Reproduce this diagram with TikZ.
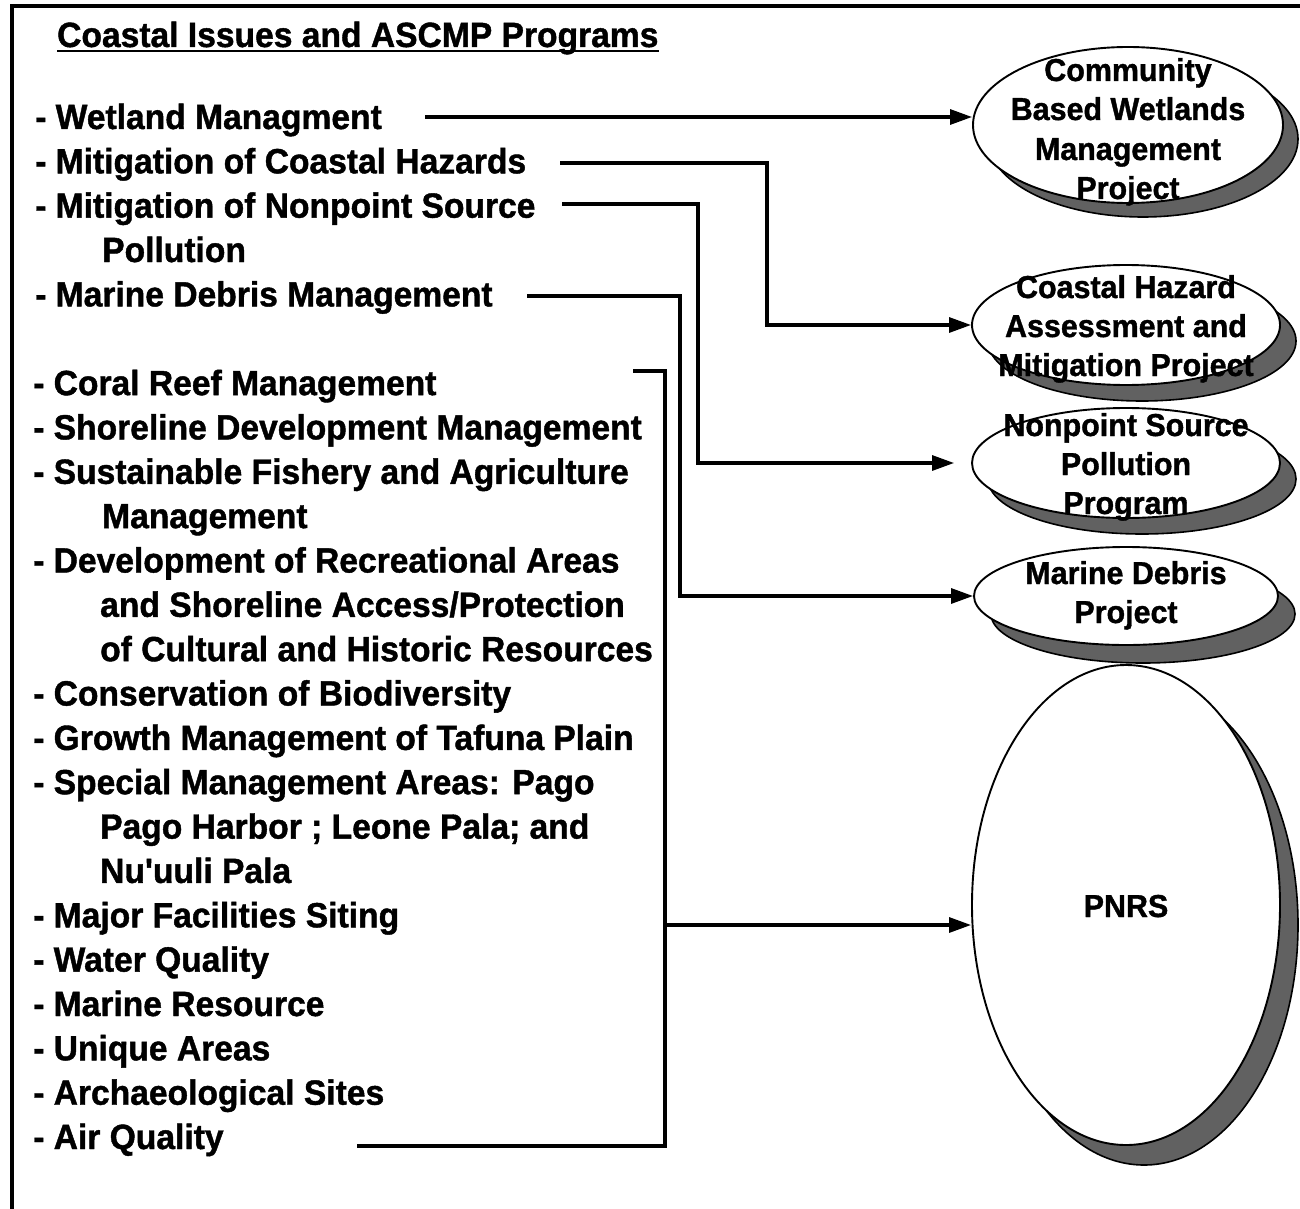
\documentclass[tikz,border=0pt]{standalone}
\usepackage{fontspec}
\newfontfamily\lbl{Liberation Sans Bold}[FakeStretch=0.96,FakeBold=1.2]
\usetikzlibrary{arrows.meta,shapes.geometric}

\begin{document}
\begin{tikzpicture}[x=1pt,y=-1pt,
  item/.style={anchor=base west, inner sep=0pt, font=\lbl\fontsize{35}{40}\selectfont},
  ovtext/.style={anchor=base, inner sep=0pt, font=\lbl\fontsize{31.7}{39}\selectfont},
  link/.style={line width=3.1pt},
  arr/.style={link, -{Triangle[length=22pt,width=15pt]}},
  oval/.style={ellipse, draw, line width=1.9pt, fill=white, inner sep=0pt},
  shade/.style={ellipse, draw=black, line width=1.6pt, fill=black!62, inner sep=0pt}]

\useasboundingbox (0,0) rectangle (1300,1209);

% frame: top and left edges only
\draw[line width=3.4pt] (12,1209) -- (12,6) -- (1300,6);

% heading
\node[item] (title) at (57,47) {Coastal Issues and ASCMP Programs};
\draw[line width=2.6pt] ([yshift=-4pt]title.base west) -- ([yshift=-4pt]title.base east);

% list of coastal issues
\node[item] (i1)  at (35,129)   {- Wetland Managment};
\node[item] (i2)  at (35,173.3) {- Mitigation of Coastal Hazards};
\node[item] (i3)  at (35,217.7) {- Mitigation of Nonpoint Source};
\node[item] (i3b) at (102,262)  {Pollution};
\node[item] (i4)  at (35,306.4) {- Marine Debris Management};
\node[item] (i5)  at (33,395.1) {- Coral Reef Management};
\node[item] (i6)  at (33,439.4) {- Shoreline Development Management};
\node[item] (i7)  at (33,483.8) {- Sustainable Fishery and Agriculture};
\node[item] (i7b) at (102,528.1){Management};
\node[item] (i8)  at (33,572.5) {- Development of Recreational Areas};
\node[item] (i8b) at (100,616.8){and Shoreline Access/Protection};
\node[item] (i8c) at (100,661.2){of Cultural and Historic Resources};
\node[item] (i9)  at (33,705.5) {- Conservation of Biodiversity};
\node[item] (i10) at (33,749.9) {- Growth Management of Tafuna Plain};
\node[item] (i11) at (33,794.2) {- Special Management Areas: Pago};
\node[item] (i11b) at (100,838.6){Pago Harbor ; Leone Pala; and};
\node[item] (i11c) at (100,882.9){Nu'uuli Pala};
\node[item] (i12) at (33,927.3) {- Major Facilities Siting};
\node[item] (i13) at (33,971.6) {- Water Quality};
\node[item] (i14) at (33,1016)  {- Marine Resource};
\node[item] (i15) at (33,1060.3){- Unique Areas};
\node[item] (i16) at (33,1104.7){- Archaeological Sites};
\node[item] (i17) at (33,1149)  {- Air Quality};

% programme ovals with drop shadows
\node[shade, minimum width=310pt, minimum height=156pt] at (1143,139) {};
\node[oval,  minimum width=310pt, minimum height=156pt] (e1) at (1128,125) {};
\node[shade, minimum width=308pt, minimum height=120pt] at (1142,341) {};
\node[oval,  minimum width=308pt, minimum height=120pt] (e2) at (1126,325) {};
\node[shade, minimum width=308pt, minimum height=110pt] at (1142,479) {};
\node[oval,  minimum width=308pt, minimum height=110pt] (e3) at (1126,463) {};
\node[shade, minimum width=304pt, minimum height=98pt] at (1143,614) {};
\node[oval,  minimum width=304pt, minimum height=98pt] (e4) at (1126,596) {};
\node[shade, minimum width=308pt, minimum height=480pt] at (1144,925) {};
\node[oval,  minimum width=308pt, minimum height=480pt] (e5) at (1126,905) {};

% oval labels
\node[ovtext] at (1128,81)  {Community};
\node[ovtext] at (1128,120) {Based Wetlands};
\node[ovtext] at (1128,160) {Management};
\node[ovtext] at (1128,199) {Project};
\node[ovtext] at (1126,298) {Coastal Hazard};
\node[ovtext] at (1126,337) {Assessment and};
\node[ovtext] at (1126,376) {Mitigation Project};
\node[ovtext] at (1126,436) {Nonpoint Source};
\node[ovtext] at (1126,475) {Pollution};
\node[ovtext] at (1126,514) {Program};
\node[ovtext] at (1126,584) {Marine Debris};
\node[ovtext] at (1126,623) {Project};
\node[ovtext] at (1126,917) {PNRS};

% connector end and bend points
\coordinate (s1) at (425,117);
\coordinate (s2) at (560,163);
\coordinate (k2) at (767,163);
\coordinate (s3) at (562,204);
\coordinate (k3) at (698,204);
\coordinate (s4) at (527,296);
\coordinate (k4) at (680,296);
\coordinate (b1) at (633,371);
\coordinate (bt) at (665,371);
\coordinate (bb) at (665,1146);
\coordinate (b2) at (357,1146);
\coordinate (j5) at (665,925);

% connectors
\draw[arr] (s1) -- (s1 -| e1.west);
\draw[arr] (s2) -- (k2) |- (e2.west);
\draw[arr, shorten >=17pt] (s3) -- (k3) |- (e3.west);
\draw[arr] (s4) -- (k4) |- (e4.west);
\draw[link] (b1) -- (bt) -- (bb) -- (b2);
\draw[arr] (j5) -- (j5 -| e5.west);
\end{tikzpicture}
\end{document}
